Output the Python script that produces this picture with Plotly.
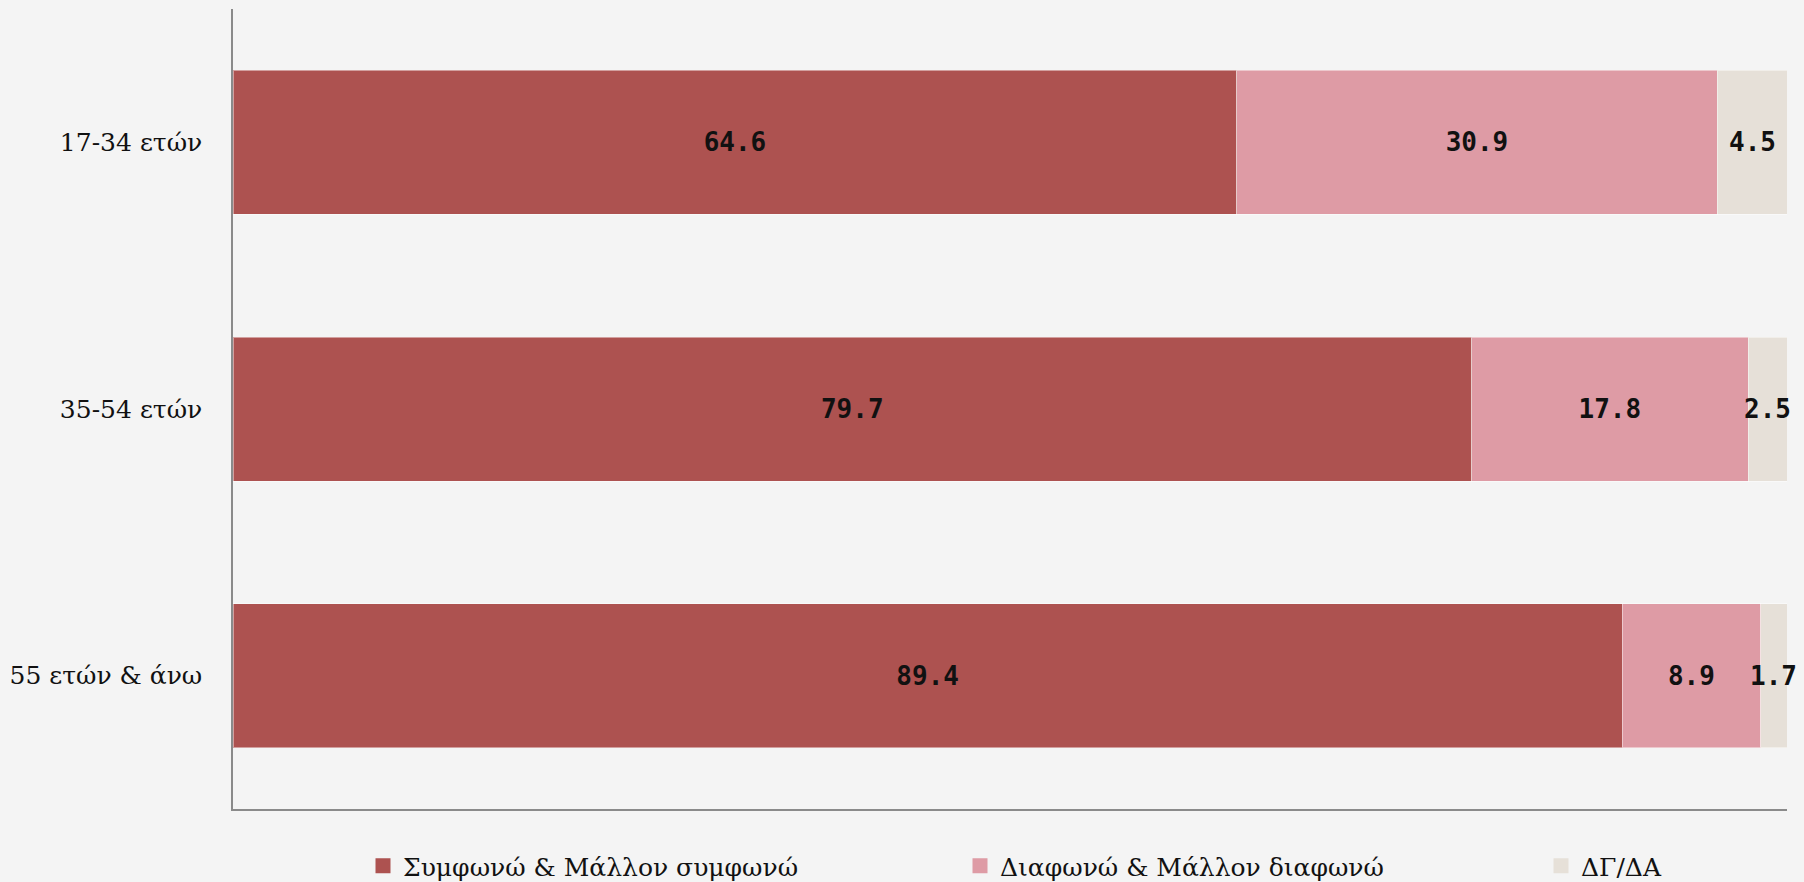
import plotly.graph_objects as go

categories = ["17-34 ετών", "35-54 ετών", "55 ετών & άνω"]
agree = [64.6, 79.7, 89.4]
disagree = [30.9, 17.8, 8.9]
dk = [4.5, 2.5, 1.7]
series_names = ["Συμφωνώ & Μάλλον συμφωνώ", "Διαφωνώ & Μάλλον διαφωνώ", "ΔΓ/ΔΑ"]
colors = ["#AD5250", "#DE9BA5", "#E6E0D8"]

label_font = dict(family="DejaVu Sans Mono", size=26, color="#111111", weight="bold")

fig = go.Figure()
legends = ["legend", "legend2", "legend3"]
all_series = [agree, disagree, dk]
for i, (name, vals, col, lg) in enumerate(zip(series_names, all_series, colors, legends)):
    last = i == len(all_series) - 1
    fig.add_trace(go.Bar(
        y=categories, x=vals, name=name, orientation="h",
        marker=dict(color=col, line=dict(color="rgba(255,255,255,0.45)", width=1)),
        text=None if last else [f"{v:.1f}" for v in vals],
        textposition="none" if last else "inside", textangle=0,
        insidetextanchor="middle", constraintext="none",
        textfont=label_font,
        showlegend=False, hoverinfo="skip",
    ))
    fig.add_trace(go.Scatter(
        x=[None], y=[None], mode="markers", name=name,
        marker=dict(symbol="square", size=15, color=col),
        legend=lg, showlegend=True, hoverinfo="skip",
    ))

# labels of the narrow last segment (may overflow the segment, as in the original)
for cat, a, d, k in zip(categories, agree, disagree, dk):
    fig.add_annotation(x=a + d + k / 2, y=cat, xref="x", yref="y", text=f"{k:.1f}",
                       showarrow=False, font=label_font, xanchor="center", yanchor="middle")

leg_common = dict(orientation="h", yanchor="middle", yref="container",
                  y=(882 - 866) / 882, xanchor="left", xref="container",
                  bgcolor="rgba(0,0,0,0)", itemwidth=30,
                  font=dict(family="DejaVu Serif", size=25, color="#111111"))

text_starts = [403, 1000, 1581]
fig.update_layout(
    barmode="stack",
    bargap=0.46,
    width=1804, height=882,
    paper_bgcolor="#F4F4F4", plot_bgcolor="#F4F4F4",
    margin=dict(l=227, r=17, t=9, b=73),
    showlegend=True,
    legend=dict(**leg_common, x=(text_starts[0] - 40) / 1804),
    legend2=dict(**leg_common, x=(text_starts[1] - 40) / 1804),
    legend3=dict(**leg_common, x=(text_starts[2] - 40) / 1804),
    xaxis=dict(range=[0, 100], showticklabels=False, showgrid=False, zeroline=False,
               showline=True, linecolor="#8A8A8A", linewidth=1.5, ticks=""),
    yaxis=dict(categoryorder="array", categoryarray=categories, autorange="reversed",
               showgrid=False, zeroline=False, showline=True, linecolor="#8A8A8A",
               linewidth=1.5, ticks="", ticklabelstandoff=24,
               tickfont=dict(family="DejaVu Serif", size=25, color="#111111")),
)

fig.write_html(
    "out.html",
    config={"displayModeBar": False},
    post_script="document.body.style.margin='0';document.body.style.background='#F4F4F4';",
)
